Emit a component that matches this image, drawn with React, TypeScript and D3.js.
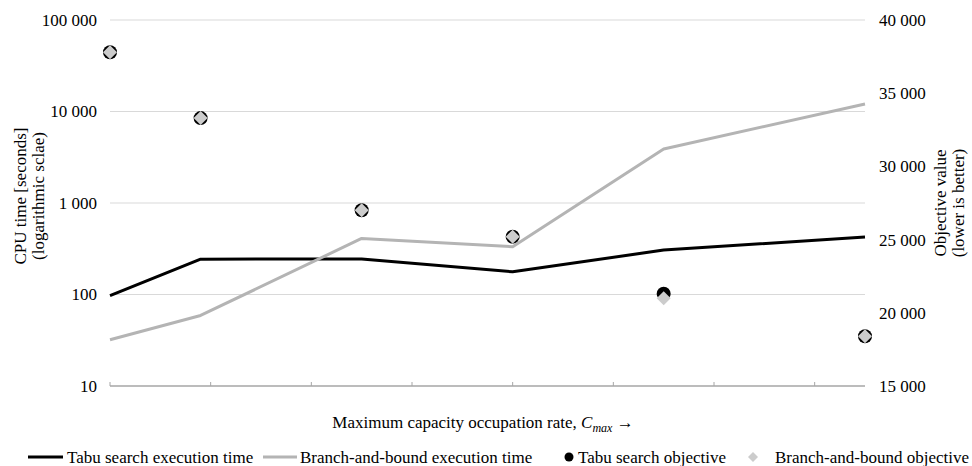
import React from "react";
import * as d3 from "d3";

const cmaxValues = [0.75, 0.768, 0.8, 0.83, 0.86, 0.9];
const tabuTime = [97, 243, 245, 177, 306, 425];
const bbTime = [32, 59, 410, 333, 3890, 12100];
const tabuObjective = [37800, 33300, 27000, 25200, 21300, 18400];
const bbObjective = [37800, 33300, 27000, 25200, 21000, 18400];
const leftTicks = [10, 100, 1000, 10000, 100000];
const rightTicks = [15000, 20000, 25000, 30000, 35000, 40000];
const xTickCount = 8;

const W = 972;
const H = 466;
const left = 110;
const right = 865;
const top = 20;
const bottom = 386;
const FONT = "'Liberation Serif', 'Times New Roman', serif";

const fmt = (v: number) => d3.format(",")(v).replace(/,/g, " ");

export default function App() {
  const x = d3.scaleLinear().domain([0.75, 0.9]).range([left, right]);
  const yL = d3.scaleLog().domain([10, 100000]).range([bottom, top]);
  const yR = d3.scaleLinear().domain([15000, 40000]).range([bottom, top]);
  const xTicks = d3.range(xTickCount).map((i) => 0.75 + i * 0.02);

  const lineL = d3
    .line<number>()
    .x((_, i) => x(cmaxValues[i]))
    .y((d) => yL(d));

  const diamond = (cx: number, cy: number, r: number) =>
    `M${cx},${cy - r}L${cx + r},${cy}L${cx},${cy + r}L${cx - r},${cy}Z`;

  return (
    <svg
      width={W}
      height={H}
      style={{ position: "absolute", left: 0, top: 0, background: "#fff" }}
      fontFamily={FONT}
    >
      {leftTicks.slice(1).map((t) => (
        <line key={t} x1={left} x2={right} y1={yL(t)} y2={yL(t)} stroke="#d9d9d9" strokeWidth={1} />
      ))}
      <line x1={left} x2={right} y1={bottom} y2={bottom} stroke="#a6a6a6" strokeWidth={1.5} />
      {xTicks.map((t, i) => (
        <line key={i} x1={x(t)} x2={x(t)} y1={bottom} y2={bottom - 4} stroke="#a6a6a6" strokeWidth={1} />
      ))}
      {leftTicks.map((t) => (
        <text key={t} x={97} y={yL(t)} dy="0.35em" textAnchor="end" fontSize={17} fill="#000">
          {fmt(t)}
        </text>
      ))}
      {rightTicks.map((t) => (
        <text key={t} x={879} y={yR(t)} dy="0.35em" textAnchor="start" fontSize={17} fill="#000">
          {fmt(t)}
        </text>
      ))}
      <text transform={`translate(26,196) rotate(-90)`} textAnchor="middle" fontSize={17}>
        CPU time [seconds]
      </text>
      <text transform={`translate(44,196) rotate(-90)`} textAnchor="middle" fontSize={17}>
        (logarithmic sclae)
      </text>
      <text transform={`translate(946,203) rotate(-90)`} textAnchor="middle" fontSize={17}>
        Objective value
      </text>
      <text transform={`translate(964,203) rotate(-90)`} textAnchor="middle" fontSize={17}>
        (lower is better)
      </text>
      <text x={483} y={428} textAnchor="middle" fontSize={17}>
        Maximum capacity occupation rate,{" "}
        <tspan fontStyle="italic">C</tspan>
        <tspan fontStyle="italic" fontSize={12} dy={4}>max</tspan>
        <tspan dy={-4}>{" \u2192"}</tspan>
      </text>
      <path d={lineL(tabuTime) || ""} fill="none" stroke="#000" strokeWidth={3} strokeLinejoin="round" />
      <path d={lineL(bbTime) || ""} fill="none" stroke="#b4b4b4" strokeWidth={3} strokeLinejoin="round" />
      {tabuObjective.map((v, i) => (
        <circle key={"c" + i} cx={x(cmaxValues[i])} cy={yR(v)} r={7} fill="#000" />
      ))}
      {bbObjective.map((v, i) => (
        <path key={"d" + i} d={diamond(x(cmaxValues[i]), yR(v), 7)} fill="#cccccc" />
      ))}
      <line x1={28} x2={63} y1={457} y2={457} stroke="#000" strokeWidth={3} />
      <text x={67} y={457} dy="0.35em" fontSize={17}>Tabu search execution time</text>
      <line x1={263} x2={297} y1={457} y2={457} stroke="#b4b4b4" strokeWidth={3} />
      <text x={300} y={457} dy="0.35em" fontSize={17}>Branch-and-bound execution time</text>
      <circle cx={569} cy={457} r={4.5} fill="#000" />
      <text x={578} y={457} dy="0.35em" fontSize={17}>Tabu search objective</text>
      <path d={diamond(753, 457, 5)} fill="#cccccc" />
      <text x={775} y={457} dy="0.35em" fontSize={17}>Branch-and-bound objective</text>
    </svg>
  );
}
